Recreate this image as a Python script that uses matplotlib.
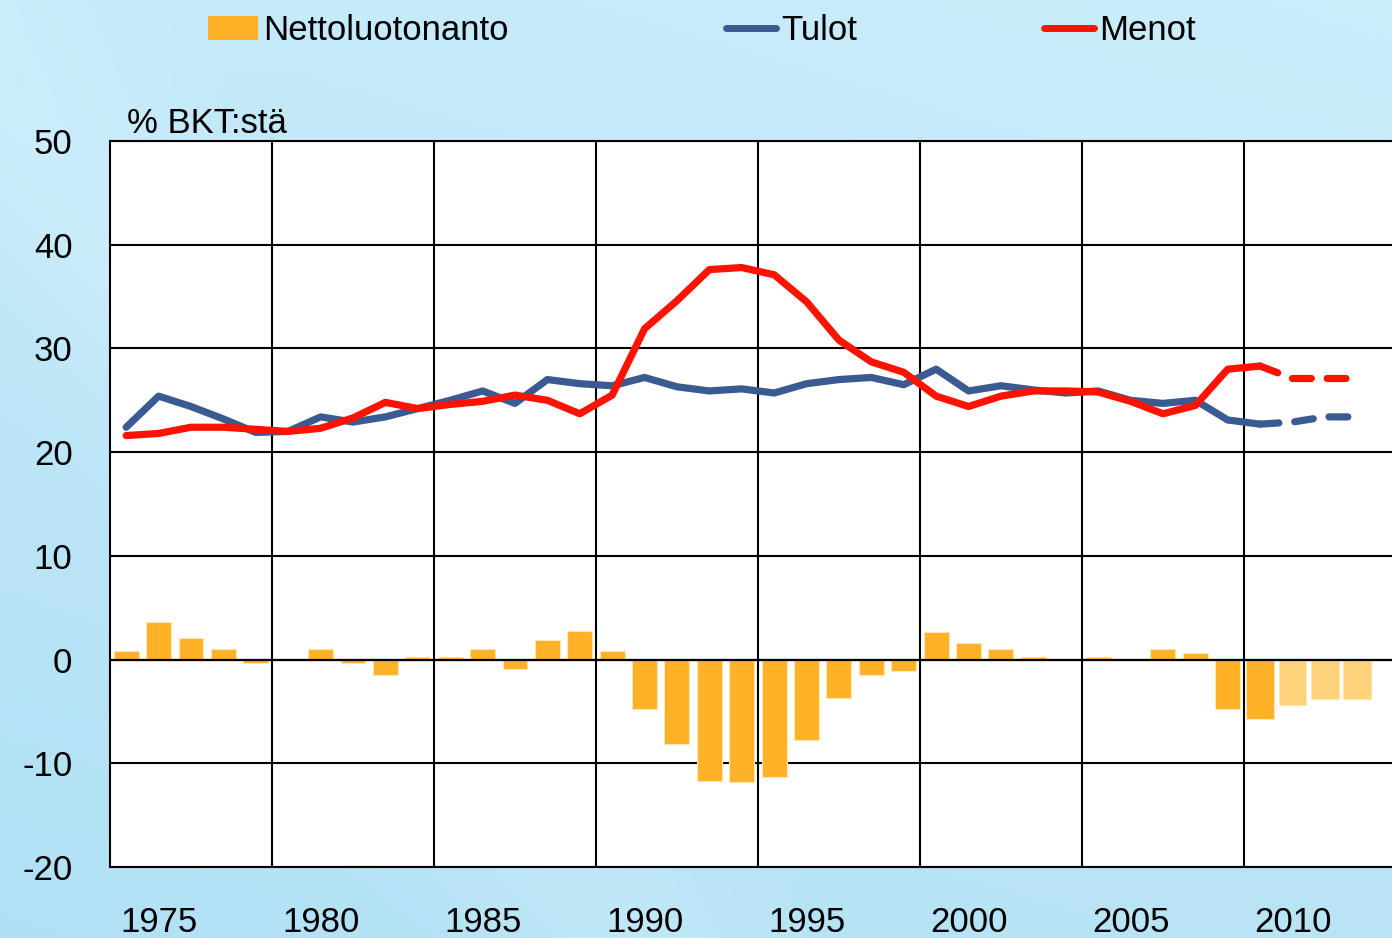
import numpy as np
import matplotlib
matplotlib.use("Agg")
import matplotlib.pyplot as plt
from matplotlib.patches import Patch
from matplotlib.lines import Line2D

# data, % of GDP, 1975-2013 (2011-2013 forecast)
vuodet = np.arange(1975, 2014)
tulot = [22.4, 25.4, 24.4, 23.2, 21.9, 22.0, 23.4, 22.9, 23.4, 24.2,
         25.0, 25.9, 24.7, 27.0, 26.6, 26.4, 27.2, 26.3, 25.9, 26.1,
         25.7, 26.6, 27.0, 27.2, 26.5, 28.0, 25.9, 26.4, 26.0, 25.7,
         25.9, 25.0, 24.7, 25.0, 23.1, 22.7, 22.9, 23.4, 23.4]
menot = [21.6, 21.8, 22.4, 22.4, 22.2, 22.0, 22.3, 23.3, 24.8, 24.2,
         24.6, 24.9, 25.5, 25.0, 23.7, 25.5, 31.9, 34.6, 37.6, 37.8,
         37.1, 34.5, 30.8, 28.7, 27.7, 25.4, 24.4, 25.4, 25.9, 25.9,
         25.8, 24.9, 23.7, 24.5, 28.0, 28.3, 27.1, 27.1, 27.1]
netto = [0.8, 3.6, 2.1, 1.0, -0.3, 0.0, 1.0, -0.3, -1.5, 0.2,
         0.2, 1.0, -0.9, 1.9, 2.8, 0.8, -4.8, -8.1, -11.7, -11.85,
         -11.3, -7.8, -3.7, -1.5, -1.1, 2.7, 1.55, 1.0, 0.2, 0.0,
         0.2, 0.0, 1.0, 0.6, -4.8, -5.7, -4.4, -3.8, -3.8]
ennuste_alku = 2011
akseli_vuodet = [1975, 1980, 1985, 1990, 1995, 2000, 2005, 2010]
selitteet = ['Nettoluotonanto', 'Tulot', 'Menot']

plt.rcParams['font.family'] = ['Liberation Sans', 'DejaVu Sans']
plt.rcParams['axes.unicode_minus'] = False
fs = 25

oranssi = '#FFB128'
vaalea = '#FFD27C'
sininen = '#3A5B91'
punainen = '#FF1200'

fig = plt.figure(figsize=(13.92, 9.38), dpi=100)

# light blue background
tausta = fig.add_axes([0, 0, 1, 1])
yy, xx = np.mgrid[0:1:200j, 0:1:300j]
grad = 0.45 * yy + 0.2 * (1 - xx) - 0.25 * np.exp(-((xx - 0.45 + 0.5 * (1 - yy)) ** 2) / 0.01)
tausta.imshow(grad, cmap=matplotlib.colors.LinearSegmentedColormap.from_list(
    'bg', ['#D4F1FC', '#ABDEF4']), aspect='auto', extent=[0, 1, 0, 1], vmin=-0.2, vmax=0.8)
tausta.axis('off')

ax = fig.add_axes([110 / 1392, 71 / 938, 1 - 110 / 1392, 726 / 938])
ax.set_facecolor('white')

ennuste = vuodet >= ennuste_alku
leveys = np.where(vuodet >= ennuste_alku - 1, 0.86, 0.77)
ax.bar(vuodet, netto, width=leveys, color=np.where(ennuste, vaalea, oranssi),
       edgecolor='#FFE6B0', linewidth=0.8, zorder=2)
ax.axhline(0, color='black', lw=1.6, zorder=2.5)

n = ennuste_alku - 1975  # index of first forecast year
for sarja, vari in [(tulot, sininen), (menot, punainen)]:
    ax.plot(vuodet[:n], sarja[:n], color=vari, lw=5.2, solid_joinstyle='round',
            solid_capstyle='round', zorder=3)
    ax.plot(vuodet[n - 1:], sarja[n - 1:], color=vari, lw=5.2, linestyle=(0, (2.6, 2.2)),
            dash_capstyle='round', zorder=3)

ax.set_xlim(1974.5, 2014.07)
ax.set_ylim(-20, 50)
ax.set_yticks(np.arange(-20, 51, 10))
ax.set_xticks([v + 4.5 for v in akseli_vuodet[:-1]])
ax.set_xticklabels([])
ax.set_xticks([v + 1.0 for v in akseli_vuodet], minor=True)
ax.set_xticklabels([str(v) for v in akseli_vuodet], minor=True)
ax.tick_params(axis='x', which='both', length=0, pad=28, labelsize=fs)
ax.tick_params(axis='y', length=0, pad=27, labelsize=fs)
ax.grid(True, which='major', color='black', lw=1.5)
ax.set_axisbelow(True)
for s in ['left', 'bottom', 'top']:
    ax.spines[s].set_linewidth(1.5)
ax.spines['right'].set_visible(False)

fig.text(127 / 1392, 1 - 133 / 938, '% BKT:stä', fontsize=fs, va='baseline', ha='left')

# legend entries placed one by one like in the original
kahvat = [Patch(facecolor=oranssi, edgecolor='none'),
          Line2D([], [], color=sininen, lw=5, solid_capstyle='round'),
          Line2D([], [], color=punainen, lw=5, solid_capstyle='round')]
for kahva, teksti, x0 in zip(kahvat, selitteet, [208, 726, 1044]):
    leg = fig.legend([kahva], [teksti], frameon=False, loc='center left',
                     bbox_to_anchor=(x0 / 1392, 1 - 31 / 938), borderpad=0,
                     borderaxespad=0, fontsize=fs, handlelength=1.45,
                     handleheight=0.7, handletextpad=0.15)

fig.savefig('out.png', dpi=100)
